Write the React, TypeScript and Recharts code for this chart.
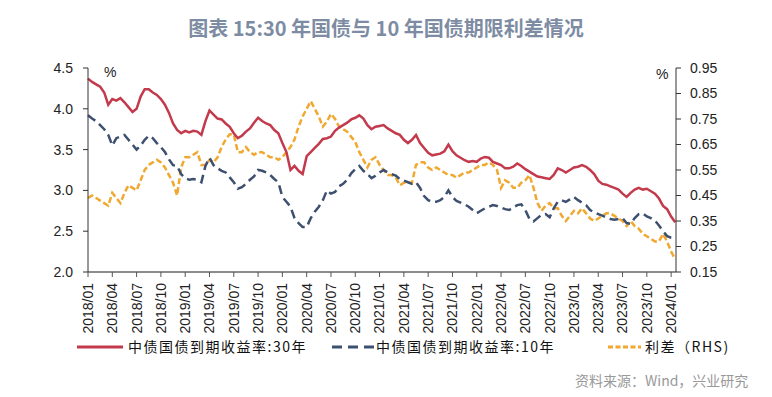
import { LineChart, Line, XAxis, YAxis } from "recharts";

// half-month observations, 2018/01 .. 2024/01
const periodCount = 146;

const yield30 = [
  4.37, 4.33, 4.30, 4.27, 4.20, 4.05, 4.12, 4.10, 4.13, 4.08, 4.02, 3.96, 4.00, 4.15, 4.24, 4.24, 4.20, 4.17, 4.12, 4.05, 3.95, 3.82, 3.74, 3.70,
  3.73, 3.71, 3.73, 3.72, 3.68, 3.85, 3.98, 3.93, 3.88, 3.87, 3.82, 3.78, 3.70, 3.64, 3.67, 3.72, 3.76, 3.83, 3.89, 3.85, 3.82, 3.80, 3.74, 3.70,
  3.58, 3.47, 3.25, 3.30, 3.24, 3.20, 3.42, 3.47, 3.52, 3.57, 3.63, 3.64, 3.66, 3.73, 3.77, 3.80, 3.83, 3.87, 3.89, 3.92, 3.88, 3.80, 3.75, 3.78,
  3.79, 3.80, 3.76, 3.73, 3.70, 3.68, 3.62, 3.58, 3.62, 3.68, 3.58, 3.52, 3.46, 3.43, 3.44, 3.45, 3.48, 3.56, 3.48, 3.43, 3.40, 3.37, 3.35, 3.36,
  3.35, 3.39, 3.41, 3.40, 3.35, 3.33, 3.31, 3.27, 3.27, 3.29, 3.33, 3.30, 3.26, 3.23, 3.20, 3.17, 3.16, 3.15, 3.14, 3.19, 3.27, 3.25, 3.22, 3.25,
  3.28, 3.29, 3.31, 3.29, 3.25, 3.20, 3.12, 3.08, 3.07, 3.05, 3.03, 3.01, 2.96, 2.92, 2.97, 3.01, 3.03, 3.01, 3.02, 2.99, 2.96, 2.90, 2.81, 2.77,
  2.68, 2.61,
];

const yield10 = [
  3.92, 3.88, 3.85, 3.80, 3.75, 3.68, 3.55, 3.64, 3.66, 3.68, 3.62, 3.56, 3.50, 3.55, 3.62, 3.67, 3.64, 3.58, 3.53, 3.47, 3.38, 3.31, 3.30, 3.20,
  3.15, 3.13, 3.14, 3.13, 3.10, 3.30, 3.40, 3.31, 3.27, 3.24, 3.22, 3.16, 3.10, 3.02, 3.04, 3.08, 3.13, 3.17, 3.25, 3.24, 3.22, 3.19, 3.14, 3.10,
  2.92, 2.86, 2.80, 2.66, 2.60, 2.55, 2.55, 2.66, 2.74, 2.80, 2.88, 3.00, 2.96, 2.98, 3.05, 3.08, 3.13, 3.21, 3.26, 3.30, 3.24, 3.20, 3.15, 3.18,
  3.22, 3.25, 3.22, 3.20, 3.18, 3.14, 3.12, 3.10, 3.08, 3.10, 3.03, 2.93, 2.88, 2.86, 2.86, 2.88, 2.92, 3.00, 2.92, 2.87, 2.85, 2.83, 2.80, 2.76,
  2.72, 2.75, 2.78, 2.80, 2.82, 2.81, 2.79, 2.77, 2.76, 2.79, 2.82, 2.83, 2.76, 2.65, 2.62, 2.66, 2.70, 2.71, 2.67, 2.78, 2.86, 2.88, 2.86, 2.89,
  2.92, 2.88, 2.85, 2.82, 2.76, 2.73, 2.71, 2.69, 2.67, 2.65, 2.64, 2.65, 2.66, 2.60, 2.59, 2.66, 2.71, 2.72, 2.68, 2.66, 2.63, 2.57, 2.50, 2.44,
  2.42, 2.42,
];

const spread = [
  0.44, 0.45, 0.44, 0.43, 0.42, 0.41, 0.46, 0.44, 0.42, 0.46, 0.49, 0.48, 0.47, 0.51, 0.55, 0.57, 0.58, 0.59, 0.58, 0.56, 0.53, 0.50, 0.45, 0.56,
  0.60, 0.60, 0.61, 0.62, 0.57, 0.57, 0.59, 0.58, 0.60, 0.64, 0.67, 0.69, 0.69, 0.62, 0.62, 0.64, 0.62, 0.61, 0.62, 0.62, 0.61, 0.60, 0.60, 0.59,
  0.60, 0.62, 0.64, 0.67, 0.72, 0.76, 0.79, 0.82, 0.79, 0.76, 0.72, 0.74, 0.77, 0.75, 0.72, 0.71, 0.70, 0.68, 0.66, 0.62, 0.59, 0.56, 0.59, 0.60,
  0.57, 0.55, 0.53, 0.53, 0.52, 0.49, 0.50, 0.50, 0.50, 0.57, 0.58, 0.58, 0.56, 0.55, 0.56, 0.55, 0.54, 0.53, 0.53, 0.52, 0.53, 0.54, 0.54, 0.55,
  0.56, 0.57, 0.57, 0.58, 0.57, 0.55, 0.48, 0.51, 0.50, 0.48, 0.48, 0.50, 0.51, 0.53, 0.48, 0.42, 0.39, 0.41, 0.42, 0.40, 0.40, 0.37, 0.35, 0.37,
  0.39, 0.38, 0.40, 0.38, 0.36, 0.35, 0.36, 0.37, 0.38, 0.38, 0.37, 0.36, 0.35, 0.33, 0.35, 0.33, 0.32, 0.30, 0.29, 0.28, 0.27, 0.27, 0.30, 0.27,
  0.23, 0.20,
];

const quarterLabels = [
  "2018/01", "2018/04", "2018/07", "2018/10",
  "2019/01", "2019/04", "2019/07", "2019/10",
  "2020/01", "2020/04", "2020/07", "2020/10",
  "2021/01", "2021/04", "2021/07", "2021/10",
  "2022/01", "2022/04", "2022/07", "2022/10",
  "2023/01", "2023/04", "2023/07", "2023/10",
  "2024/01",
];

const leftTicks = [2.0, 2.5, 3.0, 3.5, 4.0, 4.5];
const rightTicks = [0.15, 0.25, 0.35, 0.45, 0.55, 0.65, 0.75, 0.85, 0.95];

const seriesNames = ["中债国债到期收益率:30年", "中债国债到期收益率:10年", "利差（RHS)"];

const RED = "#c23a4c";
const NAVY = "#3e5070";
const ORANGE = "#f0a830";

// x is in months since 2018/01
const data = Array.from({ length: periodCount }, (_, i) => ({
  t: i * 0.5,
  y30: yield30[i],
  y10: yield10[i],
  spread: spread[i],
}));

const quarterTicks = quarterLabels.map((_, i) => i * 3);

const tickFont = { fontFamily: "Liberation Sans, Arial, sans-serif", fontSize: 14, fill: "#222" };

function XTick(props: any) {
  const { x, y, payload } = props;
  const label = quarterLabels[Math.round(payload.value / 3)] ?? "";
  return (
    <g transform={`translate(${x},${y})`}>
      <text transform="rotate(-90)" x={-4} y={0} dy="0.35em" textAnchor="end" {...tickFont}>
        {label}
      </text>
    </g>
  );
}

export default function App() {
  return (
    <div style={{ position: "absolute", left: 0, top: 0, width: 772, height: 397, background: "#fff", overflow: "hidden" }}>
      <div
        style={{
          position: "absolute",
          left: 0,
          top: 14,
          width: 772,
          textAlign: "center",
          fontFamily: "Noto Sans CJK SC, sans-serif",
          fontWeight: 700,
          fontSize: 20,
          lineHeight: "28px",
          color: "#7d8ca3",
        }}
      >
        图表 15:30 年国债与 10 年国债期限利差情况
      </div>

      <div style={{ position: "absolute", left: 0, top: 0 }}>
        <LineChart width={772} height={397} data={data} margin={{ top: 68, right: 0, bottom: 65, left: 0 }}>
          <XAxis
            dataKey="t"
            type="number"
            domain={[0, 72.6]}
            ticks={quarterTicks}
            interval={0}
            tick={<XTick />}
            tickSize={5}
            tickMargin={2}
            height={60}
            axisLine={{ stroke: "#8c8c8c", strokeWidth: 2 }}
            tickLine={{ stroke: "#555" }}
          />
          <YAxis
            yAxisId="left"
            orientation="left"
            domain={[2, 4.5]}
            ticks={leftTicks}
            interval={0}
            width={88}
            tickSize={5}
            tickMargin={10}
            tickFormatter={(v: number) => v.toFixed(1)}
            tick={tickFont}
            axisLine={{ stroke: "#333" }}
            tickLine={{ stroke: "#333" }}
          />
          <YAxis
            yAxisId="right"
            orientation="right"
            domain={[0.15, 0.95]}
            ticks={rightTicks}
            interval={0}
            width={96}
            tickSize={5}
            tickMargin={9}
            tickFormatter={(v: number) => v.toFixed(2)}
            tick={tickFont}
            axisLine={{ stroke: "#333" }}
            tickLine={{ stroke: "#333" }}
          />
          <Line
            yAxisId="right"
            dataKey="spread"
            name={seriesNames[2]}
            stroke={ORANGE}
            strokeWidth={2.5}
            strokeDasharray="6 3"
            dot={false}
            isAnimationActive={false}
          />
          <Line
            yAxisId="left"
            dataKey="y10"
            name={seriesNames[1]}
            stroke={NAVY}
            strokeWidth={2.5}
            strokeDasharray="9 5"
            dot={false}
            isAnimationActive={false}
          />
          <Line
            yAxisId="left"
            dataKey="y30"
            name={seriesNames[0]}
            stroke={RED}
            strokeWidth={2.5}
            dot={false}
            isAnimationActive={false}
          />
        </LineChart>
      </div>

      <div style={{ position: "absolute", left: 104, top: 64, ...{ fontFamily: "Liberation Sans, sans-serif", fontSize: 14, color: "#222" } }}>%</div>
      <div style={{ position: "absolute", left: 656, top: 66, ...{ fontFamily: "Liberation Sans, sans-serif", fontSize: 14, color: "#222" } }}>%</div>

      <svg width={772} height={30} style={{ position: "absolute", left: 0, top: 333 }}>
        <line x1={77} x2={123} y1={14} y2={14} stroke={RED} strokeWidth={3} />
        <line x1={332} x2={374} y1={14} y2={14} stroke={NAVY} strokeWidth={3} strokeDasharray="10 6" />
        <line x1={608} x2={641} y1={14} y2={14} stroke={ORANGE} strokeWidth={3} strokeDasharray="5 2.5" />
        {[
          { x: 128, label: seriesNames[0] },
          { x: 376, label: seriesNames[1] },
          { x: 645, label: seriesNames[2] },
        ].map((item) => (
          <text
            key={item.label}
            x={item.x}
            y={14}
            dy="0.35em"
            fontFamily="Noto Sans CJK SC, sans-serif"
            fontSize={14}
            letterSpacing={1.5}
            fill="#111"
          >
            {item.label}
          </text>
        ))}
      </svg>

      <div
        style={{
          position: "absolute",
          left: 575,
          top: 370,
          fontFamily: "Noto Sans CJK SC, sans-serif",
          fontSize: 14,
          color: "#999",
        }}
      >
        资料来源：Wind，兴业研究
      </div>
    </div>
  );
}
